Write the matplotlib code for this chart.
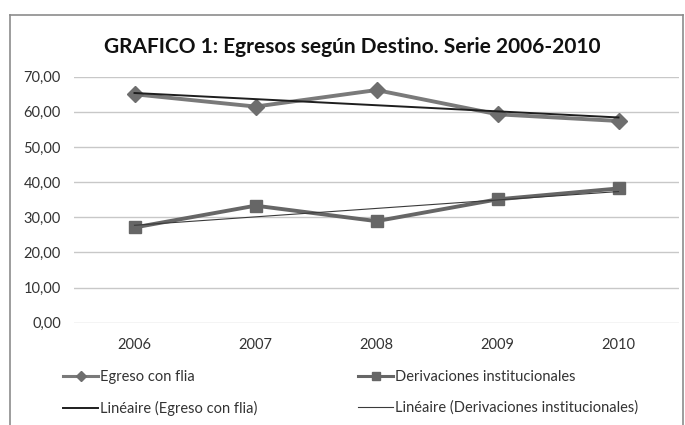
import matplotlib
matplotlib.use("Agg")
import matplotlib.pyplot as plt
import numpy as np
from matplotlib.lines import Line2D

years = ["2006", "2007", "2008", "2009", "2010"]
egreso = [65.0, 61.5, 66.2, 59.3, 57.4]
derivaciones = [27.1, 33.3, 28.9, 35.1, 38.2]
yticks = [0, 10, 20, 30, 40, 50, 60, 70]
ytick_labels = ["0,00", "10,00", "20,00", "30,00", "40,00", "50,00", "60,00", "70,00"]
title = "GRAFICO 1: Egresos según Destino. Serie 2006-2010"
labels = ["Egreso con flia", "Derivaciones institucionales",
          "Linéaire (Egreso con flia)", "Linéaire (Derivaciones institucionales)"]

plt.rcParams['font.family'] = ['Lato', 'DejaVu Sans']

W, H = 685, 425
fig = plt.figure(figsize=(W / 100, H / 100), dpi=100)
ax = fig.add_axes([74 / W, 1 - 322.7 / H, (679 - 74) / W, (322.7 - 76.7) / H])

x = np.arange(len(years))
l1, = ax.plot(x, egreso, color="#7a7a7a", lw=2.8, marker="D", ms=8, mfc="#6e6e6e", mec="#6e6e6e", zorder=4)
l2, = ax.plot(x, derivaciones, color="#666666", lw=2.8, marker="s", ms=9, mfc="#666666", mec="#666666", zorder=4)

c1 = np.polyfit(x, egreso, 1)
c2 = np.polyfit(x, derivaciones, 1)
t1, = ax.plot(x, np.polyval(c1, x), color="#1e1e1e", lw=1.4, zorder=5)
t2, = ax.plot(x, np.polyval(c2, x), color="#3a3a3a", lw=0.8, zorder=5)

ax.set_xlim(-0.5, len(years) - 0.5)
ax.set_ylim(0, 70)
ax.set_yticks(yticks)
ax.set_yticklabels(ytick_labels)
ax.set_xticks(x)
ax.set_xticklabels(years)
ax.grid(axis="y", color="#c8c8c8", lw=1.0)
ax.set_axisbelow(True)
for s in ax.spines.values():
    s.set_visible(False)
ax.tick_params(length=0, labelsize=10.5, colors="#333333")
ax.tick_params(axis="y", pad=9.5)
ax.tick_params(axis="x", pad=11)

fig.text(352 / W, 1 - 47 / H, title, ha="center", va="center", fontsize=15, fontweight="bold", color="#111111")

# chart frame
fc = "#8c8c8c"
fig.add_artist(Line2D([10 / W, 10 / W], [0, 1 - 15 / H], color=fc, lw=1.2, transform=fig.transFigure))
fig.add_artist(Line2D([10 / W, 683 / W], [1 - 15 / H, 1 - 15 / H], color=fc, lw=1.2, transform=fig.transFigure))
fig.add_artist(Line2D([683 / W, 683 / W], [0, 1 - 15 / H], color=fc, lw=1.2, transform=fig.transFigure))

common = dict(loc="upper left", frameon=False, fontsize=10.5, handlelength=2.4,
              handletextpad=0.15, labelspacing=1.15, markerscale=0.7,
              borderpad=0, borderaxespad=0, labelcolor="#333333")
leg1 = fig.legend([l1, t1], [labels[0], labels[2]], bbox_to_anchor=(63 / W, 1 - 370 / H), **common)
leg2 = fig.legend([l2, t2], [labels[1], labels[3]], bbox_to_anchor=(358 / W, 1 - 370 / H), **common)
for lg in (leg1, leg2):
    lines = lg.get_lines()
    lines[0].set_linewidth(2.2)
plt.savefig("out.png", dpi=100)
